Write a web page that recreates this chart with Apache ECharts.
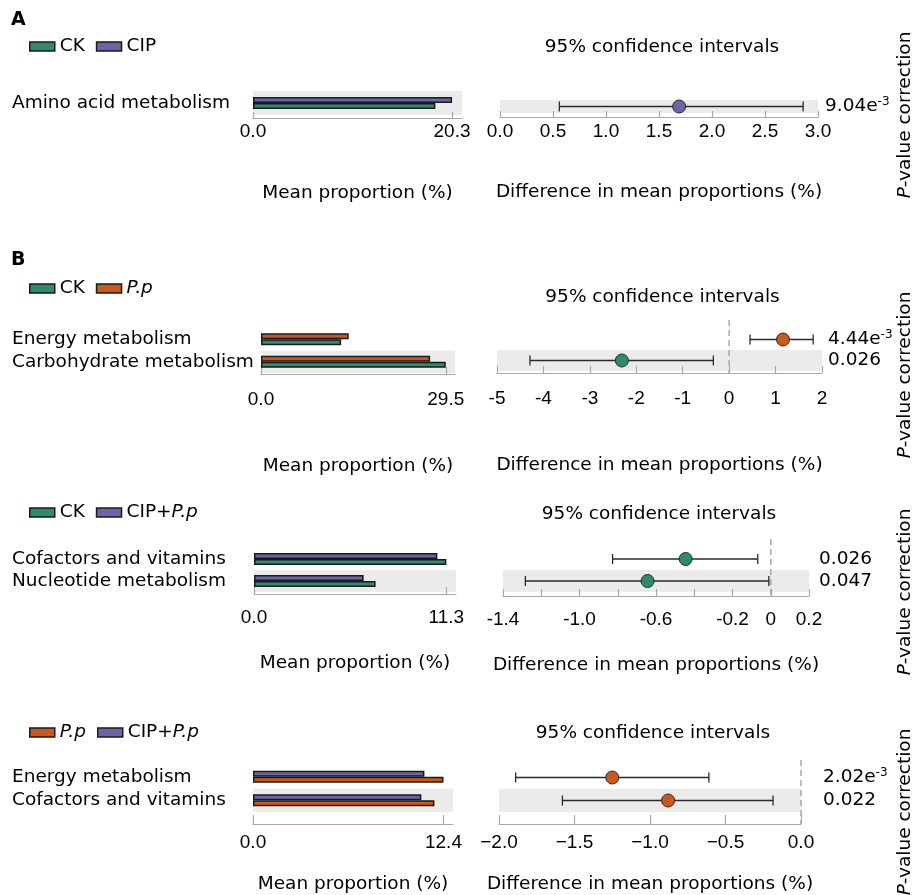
<!DOCTYPE html>
<html>
<head>
<meta charset="utf-8">
<script src="https://cdn.jsdelivr.net/npm/echarts@6/dist/echarts.min.js"></script>
<style>
  html, body { margin: 0; padding: 0; background: #fff; }
  #chart { width: 913px; height: 895px; }
</style>
</head>
<body>
<div id="chart"></div>
<script>
// ---------- Panel A: CK vs CIP ----------
const groupsA = ['CK', 'CIP'];
const catA = ['Amino acid metabolism'];
const ckA = [18.6];
const cipA = [20.3];
const diffA = [1.69];
const lowA = [0.56];
const highA = [2.86];
const pA = ['9.04e-3'];
const barTicksA = [0, 20.3];
const diffTicksA = [0, 0.5, 1.0, 1.5, 2.0, 2.5, 3.0];

// ---------- Panel B1: CK vs P.p ----------
const groupsB1 = ['CK', 'P.p'];
const catB1 = ['Energy metabolism', 'Carbohydrate metabolism'];
const ckB1 = [12.8, 29.5];
const ppB1 = [14.0, 27.0];
const diffB1 = [1.16, -2.31];
const lowB1 = [0.45, -4.29];
const highB1 = [1.81, -0.34];
const pB1 = ['4.44e-3', '0.026'];
const barTicksB1 = [0, 29.5];
const diffTicksB1 = [-5, -4, -3, -2, -1, 0, 1, 2];

// ---------- Panel B2: CK vs CIP+P.p ----------
const groupsB2 = ['CK', 'CIP+P.p'];
const catB2 = ['Cofactors and vitamins', 'Nucleotide metabolism'];
const ckB2 = [11.3, 7.14];
const cppB2 = [10.77, 6.44];
const diffB2 = [-0.445, -0.644];
const lowB2 = [-0.827, -1.283];
const highB2 = [-0.068, -0.01];
const pB2 = ['0.026', '0.047'];
const barTicksB2 = [0, 11.3];
const diffTicksB2 = [-1.4, -1.0, -0.6, -0.2, 0, 0.2];

// ---------- Panel B3: P.p vs CIP+P.p ----------
const groupsB3 = ['P.p', 'CIP+P.p'];
const catB3 = ['Energy metabolism', 'Cofactors and vitamins'];
const ppB3 = [12.4, 11.81];
const cppB3 = [11.16, 10.96];
const diffB3 = [-1.25, -0.88];
const lowB3 = [-1.89, -1.58];
const highB3 = [-0.61, -0.185];
const pB3 = ['2.02e-3', '0.022'];
const barTicksB3 = [0, 12.4];
const diffTicksB3 = [-2.0, -1.5, -1.0, -0.5, 0.0];

// ---------- styling ----------
const FONT = '"DejaVu Sans", sans-serif';
const NUM_FONT = '"Liberation Sans", Arial, sans-serif';
const TXT = 18.5;
const NUM = 19;
const AXIS = '#a8a8a8';
const BAND = '#ebebeb';
const EDGE = '#1a1a1a';
const COLORS = { 'CK': '#2e8b6e', 'CIP': '#6b64a8', 'P.p': '#c95a1c', 'CIP+P.p': '#6b64a8' };

const fmtFixed1 = v => v.toFixed(1);
const fmtPlain = v => String(Math.round(v * 10) / 10);
const fmtB2 = v => (Math.abs(v) < 1e-9 ? '0' : v.toFixed(1));
const fmtMinus = v => (v < -1e-9 ? '\u2212' : '') + Math.abs(v).toFixed(1);

const panels = [
  {
    groups: groupsA, cats: catA, g1: ckA, g2: cipA, diff: diffA, low: lowA, high: highA, p: pA,
    barTicks: barTicksA, diffTicks: diffTicksA, step: 0.5, fmt: fmtFixed1,
    L: {
      bar: { left: 253, top: 91, width: 209, height: 24, offset: 3, labelMargin: 4 },
      diff: { left: 500, top: 100, width: 318, height: 13, offset: 4, labelMargin: 5 },
      nameGap: 66, tickLen: 6, pMargin: 7, zeroExt: null,
      legendTop: 37, titleY: 47, pY: 115, tag: 'A', tagY: 20
    }
  },
  {
    groups: groupsB1, cats: catB1, g1: ckB1, g2: ppB1, diff: diffB1, low: lowB1, high: highB1, p: pB1,
    barTicks: barTicksB1, diffTicks: diffTicksB1, step: 1, fmt: fmtPlain,
    L: {
      bar: { left: 261, top: 328, width: 194, height: 45, offset: 1, labelMargin: 16 },
      diff: { left: 497, top: 329, width: 325, height: 42, offset: 2, labelMargin: 16 },
      nameGap: 83, tickLen: 7, pMargin: 6, zeroExt: 9,
      legendTop: 279, titleY: 297, pY: 375, tag: 'B', tagY: 260
    }
  },
  {
    groups: groupsB2, cats: catB2, g1: ckB2, g2: cppB2, diff: diffB2, low: lowB2, high: highB2, p: pB2,
    barTicks: barTicksB2, diffTicks: diffTicksB2, step: 0.2, fmt: fmtB2,
    L: {
      bar: { left: 254, top: 548, width: 202, height: 44, offset: 2, labelMargin: 14 },
      diff: { left: 503, top: 548, width: 306, height: 44, offset: 4, labelMargin: 14 },
      nameGap: 60, tickLen: 7, pMargin: 10, zeroExt: 9,
      legendTop: 503, titleY: 514, pY: 592, tag: null
    }
  },
  {
    groups: groupsB3, cats: catB3, g1: ppB3, g2: cppB3, diff: diffB3, low: lowB3, high: highB3, p: pB3,
    barTicks: barTicksB3, diffTicks: diffTicksB3, step: 0.5, fmt: fmtMinus,
    L: {
      bar: { left: 253, top: 765, width: 200, height: 47, offset: 12, labelMargin: 9 },
      diff: { left: 499, top: 766, width: 302, height: 46, offset: 12, labelMargin: 9 },
      nameGap: 51, tickLen: 9, pMargin: 22, zeroExt: 6,
      legendTop: 723, titleY: 733, pY: 812, tag: null
    }
  }
];

const option = {
  animation: false,
  backgroundColor: '#fff',
  grid: [], xAxis: [], yAxis: [], series: [], legend: [], graphic: []
};

const axisText = { fontFamily: NUM_FONT, fontSize: NUM, color: '#000' };
const nameText = { fontFamily: FONT, fontSize: TXT, color: '#000' };

function supFormatter(v) {
  const m = /^(.*)e(-\d+)$/.exec(v);
  return m ? m[1] + 'e{sup|' + m[2] + '}' : v;
}

panels.forEach(P => {
  const L = P.L;
  // rows are listed top to bottom; the category axis runs bottom to top
  const catsUp = P.cats.slice().reverse();
  const g1Up = P.g1.slice().reverse();
  const g2Up = P.g2.slice().reverse();
  const diffUp = P.diff.slice().reverse();
  const lowUp = P.low.slice().reverse();
  const highUp = P.high.slice().reverse();
  const pUp = P.p.slice().reverse();

  // ----- mean proportion bars -----
  const bg = option.grid.length;
  option.grid.push({ left: L.bar.left, top: L.bar.top, width: L.bar.width, height: L.bar.height });
  option.xAxis.push({
    type: 'value', gridIndex: bg, min: 0, max: P.barTicks[P.barTicks.length - 1] * 1.05,
    offset: L.bar.offset,
    axisLine: { show: true, lineStyle: { color: AXIS, width: 1.2 } },
    axisTick: { show: true, inside: true, length: L.tickLen, customValues: P.barTicks, lineStyle: { color: AXIS, width: 1.2 } },
    axisLabel: Object.assign({ customValues: P.barTicks, formatter: fmtFixed1, margin: L.bar.labelMargin }, axisText),
    splitLine: { show: false },
    name: 'Mean proportion (%)', nameLocation: 'middle', nameGap: L.nameGap, nameTextStyle: nameText
  });
  const by = option.yAxis.length;
  option.yAxis.push({
    type: 'category', gridIndex: bg, data: catsUp,
    axisLine: { show: false }, axisTick: { show: false },
    axisLabel: { interval: 0, align: 'left', margin: L.bar.left - 12, fontFamily: FONT, fontSize: TXT, color: '#000' },
    splitArea: { show: true, interval: 0, areaStyle: { color: [BAND, 'rgba(0,0,0,0)'] } }
  });
  // the second group sits above the first inside each row
  [[P.groups[1], g2Up], [P.groups[0], g1Up]].forEach(([name, vals]) => {
    option.series.push({
      type: 'bar', name, xAxisIndex: bg, yAxisIndex: by, data: vals,
      barWidth: 6, barGap: '0%', silent: true,
      itemStyle: { color: COLORS[name], borderColor: EDGE, borderWidth: 1.5 }
    });
  });

  // ----- difference with 95% confidence intervals -----
  const dg = option.grid.length;
  option.grid.push({ left: L.diff.left, top: L.diff.top, width: L.diff.width, height: L.diff.height });
  option.xAxis.push({
    type: 'value', gridIndex: dg,
    min: P.diffTicks[0], max: P.diffTicks[P.diffTicks.length - 1], interval: P.step,
    offset: L.diff.offset,
    axisLine: { show: true, lineStyle: { color: AXIS, width: 1.2 } },
    axisTick: { show: true, inside: true, length: L.tickLen, lineStyle: { color: AXIS, width: 1.2 } },
    axisLabel: Object.assign({ customValues: P.diffTicks, formatter: P.fmt, margin: L.diff.labelMargin }, axisText),
    splitLine: { show: false },
    name: 'Difference in mean proportions (%)', nameLocation: 'middle', nameGap: L.nameGap, nameTextStyle: nameText
  });
  const dy = option.yAxis.length;
  option.yAxis.push({
    type: 'category', gridIndex: dg, data: catsUp,
    axisLine: { show: false }, axisTick: { show: false }, axisLabel: { show: false },
    splitArea: { show: true, interval: 0, areaStyle: { color: [BAND, 'rgba(0,0,0,0)'] } }
  });
  option.yAxis.push({
    type: 'category', gridIndex: dg, data: pUp, position: 'right',
    axisLine: { show: false }, axisTick: { show: false }, splitArea: { show: false },
    axisLabel: {
      interval: 0, margin: L.pMargin, formatter: supFormatter,
      fontFamily: FONT, fontSize: TXT, color: '#000', lineHeight: 22,
      rich: { sup: { fontFamily: FONT, fontSize: 12, lineHeight: 12, verticalAlign: 'top', color: '#000' } }
    }
  });

  if (L.zeroExt !== null) {
    const ext = L.zeroExt, off = L.diff.offset;
    option.series.push({
      type: 'custom', xAxisIndex: dg, yAxisIndex: dy, silent: true,
      data: [[0, 0]], encode: { x: 0, y: 1 },
      renderItem: (params, api) => {
        const x = api.coord([api.value(0), 0])[0];
        const cs = params.coordSys;
        return {
          type: 'line',
          shape: { x1: x, y1: cs.y - ext, x2: x, y2: cs.y + cs.height + off },
          style: { stroke: '#a8a8a8', lineWidth: 1.5, lineDash: [6, 4] }
        };
      }
    });
  }

  option.series.push({
    type: 'custom', xAxisIndex: dg, yAxisIndex: dy, silent: true,
    data: catsUp.map((c, i) => [i, lowUp[i], highUp[i]]),
    encode: { x: [1, 2], y: 0 },
    renderItem: (params, api) => {
      const row = api.value(0);
      const a = api.coord([api.value(1), row]);
      const b = api.coord([api.value(2), row]);
      const h = 5;
      const style = { stroke: '#2a2a2a', lineWidth: 1.3 };
      return {
        type: 'group',
        children: [
          { type: 'line', shape: { x1: a[0], y1: a[1], x2: b[0], y2: b[1] }, style },
          { type: 'line', shape: { x1: a[0], y1: a[1] - h, x2: a[0], y2: a[1] + h }, style },
          { type: 'line', shape: { x1: b[0], y1: b[1] - h, x2: b[0], y2: b[1] + h }, style }
        ]
      };
    }
  });

  option.series.push({
    type: 'scatter', xAxisIndex: dg, yAxisIndex: dy, silent: true,
    symbol: 'circle', symbolSize: 13,
    data: catsUp.map((c, i) => ({
      value: [diffUp[i], i],
      itemStyle: { color: COLORS[diffUp[i] >= 0 ? P.groups[1] : P.groups[0]] }
    })),
    itemStyle: { borderColor: '#2a2a2a', borderWidth: 1, opacity: 1 }
  });

  // ----- legend, headings -----
  option.legend.push({
    left: 29, top: L.legendTop, padding: 0, icon: 'rect',
    itemWidth: 25, itemHeight: 9, itemGap: 11, selectedMode: false,
    data: P.groups,
    itemStyle: { borderColor: EDGE, borderWidth: 1.5 },
    formatter: n => n.replace('P.p', '{i|P.p}'),
    textStyle: {
      fontFamily: FONT, fontSize: TXT, color: '#000',
      rich: { i: { fontFamily: FONT, fontSize: TXT, fontStyle: 'italic', color: '#000' } }
    }
  });

  option.graphic.push({
    type: 'text', x: L.diff.left + L.diff.width / 2 + 3, y: L.titleY,
    style: { text: '95% confidence intervals', font: TXT + 'px ' + FONT, fill: '#000', align: 'center', verticalAlign: 'middle' }
  });
  option.graphic.push({
    type: 'text', x: 905, y: L.pY, rotation: Math.PI / 2,
    style: {
      text: '{i|P}-value correction', font: TXT + 'px ' + FONT, fill: '#000', align: 'center', verticalAlign: 'middle',
      rich: { i: { fontStyle: 'italic', fontFamily: FONT, fontSize: TXT, fill: '#000' } }
    }
  });
  if (L.tag) {
    option.graphic.push({
      type: 'text', x: 11, y: L.tagY,
      style: { text: L.tag, font: 'bold 19px ' + FONT, fill: '#000', align: 'left', verticalAlign: 'middle' }
    });
  }
});

const chart = echarts.init(document.getElementById('chart'), null, { renderer: 'canvas' });
chart.setOption(option);
</script>
</body>
</html>
